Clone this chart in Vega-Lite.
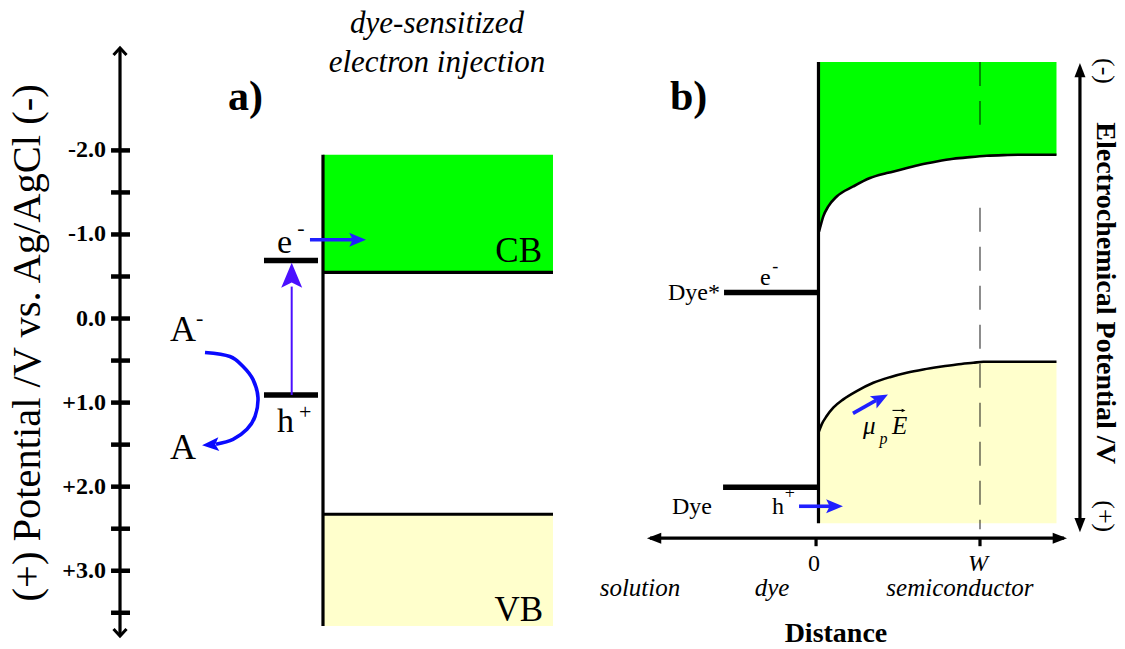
{
  "$schema": "https://vega.github.io/schema/vega-lite/v6.json",
  "width": 1125,
  "height": 649,
  "autosize": {"type": "fit", "contains": "padding"},
  "padding": 0,
  "background": "#ffffff",
  "config": {
    "view": {"stroke": null},
    "axis": {"disable": true},
    "text": {"font": "Liberation Serif", "color": "#000000"}
  },
  "datasets": {
    "edges": [
      {"band": "CB", "d": 0.0062, "E": -1.033},
      {"band": "CB", "d": 0.0123, "E": -1.077},
      {"band": "CB", "d": 0.0327, "E": -1.215},
      {"band": "CB", "d": 0.0636, "E": -1.334},
      {"band": "CB", "d": 0.1154, "E": -1.452},
      {"band": "CB", "d": 0.2179, "E": -1.571},
      {"band": "CB", "d": 0.321, "E": -1.671},
      {"band": "CB", "d": 0.4241, "E": -1.73},
      {"band": "CB", "d": 0.5265, "E": -1.778},
      {"band": "CB", "d": 0.6296, "E": -1.829},
      {"band": "CB", "d": 0.7327, "E": -1.868},
      {"band": "CB", "d": 0.8352, "E": -1.9},
      {"band": "CB", "d": 0.9383, "E": -1.92},
      {"band": "CB", "d": 1.0414, "E": -1.936},
      {"band": "CB", "d": 1.1438, "E": -1.944},
      {"band": "CB", "d": 1.2469, "E": -1.948},
      {"band": "CB", "d": 1.4722, "E": -1.948},
      {"band": "VB", "d": 0.003, "E": 1.357},
      {"band": "VB", "d": 0.0228, "E": 1.259},
      {"band": "VB", "d": 0.0537, "E": 1.16},
      {"band": "VB", "d": 0.0944, "E": 1.061},
      {"band": "VB", "d": 0.1562, "E": 0.962},
      {"band": "VB", "d": 0.2389, "E": 0.863},
      {"band": "VB", "d": 0.3414, "E": 0.764},
      {"band": "VB", "d": 0.4444, "E": 0.697},
      {"band": "VB", "d": 0.5475, "E": 0.645},
      {"band": "VB", "d": 0.65, "E": 0.606},
      {"band": "VB", "d": 0.7531, "E": 0.574},
      {"band": "VB", "d": 0.8562, "E": 0.546},
      {"band": "VB", "d": 0.9586, "E": 0.526},
      {"band": "VB", "d": 1.0204, "E": 0.514},
      {"band": "VB", "d": 1.4722, "E": 0.514}
    ]
  },
  "layer": [
    {
      "data": {"values": [
        {"band": "CB", "d": -3.0556, "d2": -1.6358, "E": -1.948, "E2": -0.55},
        {"band": "VB", "d": -3.0556, "d2": -1.6358, "E": 2.328, "E2": 3.658}
      ]},
      "mark": {"type": "rect"},
      "encoding": {
        "x": {"field": "d", "type": "quantitative", "axis": null,
              "scale": {"domain": [-5.0494, 1.8951], "nice": false, "zero": false}},
        "x2": {"field": "d2"},
        "y": {"field": "E", "type": "quantitative", "axis": null,
              "scale": {"domain": [-3.789, 3.919], "reverse": true, "nice": false, "zero": false}},
        "y2": {"field": "E2"},
        "color": {"field": "band", "type": "nominal", "legend": null,
                  "scale": {"domain": ["CB", "VB"], "range": ["#00ff00", "#ffffcc"]}}
      }
    },
    {
      "data": {"name": "edges"},
      "transform": [{"filter": "datum.band == 'CB'"}],
      "mark": {"type": "area", "interpolate": "monotone", "color": "#00ff00"},
      "encoding": {
        "x": {"field": "d", "type": "quantitative"},
        "y": {"field": "E", "type": "quantitative"},
        "y2": {"datum": -3.052}
      }
    },
    {
      "data": {"name": "edges"},
      "transform": [{"filter": "datum.band == 'VB'"}],
      "mark": {"type": "area", "interpolate": "monotone", "color": "#ffffcc"},
      "encoding": {
        "x": {"field": "d", "type": "quantitative"},
        "y": {"field": "E", "type": "quantitative"},
        "y2": {"datum": 2.435}
      }
    },
    {
      "data": {"values": [
        {"d": 1.0, "E": -3.052, "E2": -2.304},
        {"d": 1.0, "E": -1.318, "E2": 2.506}
      ]},
      "mark": {"type": "rule", "color": "#000000", "opacity": 0.6, "strokeWidth": 1.5, "strokeDash": [24, 15]},
      "encoding": {
        "x": {"field": "d", "type": "quantitative"},
        "y": {"field": "E", "type": "quantitative"},
        "y2": {"field": "E2"}
      }
    },
    {
      "data": {"name": "edges"},
      "mark": {"type": "line", "interpolate": "monotone", "color": "#000000", "strokeWidth": 2.6},
      "encoding": {
        "x": {"field": "d", "type": "quantitative"},
        "y": {"field": "E", "type": "quantitative"},
        "detail": {"field": "band"}
      }
    },
    {
      "data": {"values": [
        {"part": "interface a", "d": -3.0556, "E": -1.948, "d2": -3.0556, "E2": 3.658},
        {"part": "CB edge a", "d": -3.0556, "E": -0.55, "d2": -1.6358, "E2": -0.55},
        {"part": "VB edge a", "d": -3.0556, "E": 2.328, "d2": -1.6358, "E2": 2.328},
        {"part": "interface b", "d": 0.003, "E": -3.052, "d2": 0.003, "E2": 2.435},
        {"part": "potential axis", "d": -4.3086, "E": -3.21, "d2": -4.3086, "E2": 3.768},
        {"part": "distance axis", "d": -1.037, "E": 2.613, "d2": 1.519, "E2": 2.613},
        {"part": "electrochemical axis", "d": 1.617, "E": -2.96, "d2": 1.617, "E2": 2.46},
        {"part": "tick 0", "d": -0.012, "E": 2.613, "d2": -0.012, "E2": 2.708},
        {"part": "tick W", "d": 1.0, "E": 2.613, "d2": 1.0, "E2": 2.708}
      ]},
      "mark": {"type": "rule", "color": "#000000", "strokeWidth": 3.2},
      "encoding": {
        "x": {"field": "d", "type": "quantitative"},
        "y": {"field": "E", "type": "quantitative"},
        "x2": {"field": "d2"},
        "y2": {"field": "E2"}
      }
    },
    {
      "data": {"values": [
        {"E": -2.0}, {"E": -1.5}, {"E": -1.0}, {"E": -0.5}, {"E": 0.0}, {"E": 0.5},
        {"E": 1.0}, {"E": 1.5}, {"E": 2.0}, {"E": 2.5}, {"E": 3.0}, {"E": 3.5}
      ]},
      "mark": {"type": "rule", "color": "#000000", "strokeWidth": 4.5},
      "encoding": {
        "x": {"datum": -4.364},
        "x2": {"datum": -4.247},
        "y": {"field": "E", "type": "quantitative"}
      }
    },
    {
      "data": {"values": [
        {"level": "e- (dye, a)", "d": -3.4198, "d2": -3.0864, "E": -0.689},
        {"level": "h+ (dye, a)", "d": -3.4198, "d2": -3.0864, "E": 0.909},
        {"level": "Dye*", "d": -0.58, "d2": 0.003, "E": -0.309},
        {"level": "Dye", "d": -0.586, "d2": 0.003, "E": 2.007}
      ]},
      "mark": {"type": "rule", "color": "#000000", "strokeWidth": 5.5},
      "encoding": {
        "x": {"field": "d", "type": "quantitative"},
        "x2": {"field": "d2"},
        "y": {"field": "E", "type": "quantitative"}
      }
    },
    {
      "data": {"values": [{"d": -3.2488, "E": 0.909, "E2": -0.38}]},
      "mark": {"type": "rule", "color": "#4b10ff", "strokeWidth": 2},
      "encoding": {
        "x": {"field": "d", "type": "quantitative"},
        "y": {"field": "E", "type": "quantitative"},
        "y2": {"field": "E2"}
      }
    },
    {
      "data": {"values": [
        {"arrow": "injection", "d": -3.136, "E": -0.938, "d2": -2.87, "E2": -0.938},
        {"arrow": "hole", "d": -0.117, "E": 2.233, "d2": 0.08, "E2": 2.233},
        {"arrow": "drift", "d": 0.216, "E": 1.128, "d2": 0.358, "E2": 0.974}
      ]},
      "mark": {"type": "rule", "color": "#2020ff", "strokeWidth": 3.6},
      "encoding": {
        "x": {"field": "d", "type": "quantitative"},
        "y": {"field": "E", "type": "quantitative"},
        "x2": {"field": "d2"},
        "y2": {"field": "E2"}
      }
    },
    {
      "data": {"values": [{"d": 0.46, "E": 1.093, "d2": 0.53, "E2": 1.093}]},
      "mark": {"type": "rule", "color": "#000000", "strokeWidth": 1.1},
      "encoding": {
        "x": {"field": "d", "type": "quantitative"},
        "y": {"field": "E", "type": "quantitative"},
        "x2": {"field": "d2"},
        "y2": {"field": "E2"}
      }
    },
    {
      "data": {"values": [
        {"i": 1, "d": -3.784, "E": 0.404},
        {"i": 2, "d": -3.63, "E": 0.451},
        {"i": 3, "d": -3.549, "E": 0.57},
        {"i": 4, "d": -3.488, "E": 0.724},
        {"i": 5, "d": -3.457, "E": 0.938},
        {"i": 6, "d": -3.475, "E": 1.164},
        {"i": 7, "d": -3.525, "E": 1.318},
        {"i": 8, "d": -3.611, "E": 1.437},
        {"i": 9, "d": -3.716, "E": 1.496}
      ]},
      "mark": {"type": "line", "interpolate": "cardinal", "color": "#0a0aff", "strokeWidth": 3.6},
      "encoding": {
        "x": {"field": "d", "type": "quantitative"},
        "y": {"field": "E", "type": "quantitative"},
        "order": {"field": "i", "type": "quantitative"}
      }
    },
    {
      "data": {"values": [{"d": -3.2488, "E": -0.665}]},
      "mark": {"type": "point", "shape": "M0,0L1,2.4L0,1.9L-1,2.4Z", "size": 441, "filled": true, "opacity": 1, "color": "#4b10ff", "strokeWidth": 0},
      "encoding": {"x": {"field": "d", "type": "quantitative"}, "y": {"field": "E", "type": "quantitative"}}
    },
    {
      "data": {"values": [{"d": -2.79, "E": -0.938}, {"d": 0.154, "E": 2.233}]},
      "mark": {"type": "point", "shape": "M0,0L1,2.4L0,1.9L-1,2.4Z", "size": 196, "angle": 90, "filled": true, "opacity": 1, "color": "#2020ff", "strokeWidth": 0},
      "encoding": {"x": {"field": "d", "type": "quantitative"}, "y": {"field": "E", "type": "quantitative"}}
    },
    {
      "data": {"values": [{"d": 0.432, "E": 0.903}]},
      "mark": {"type": "point", "shape": "M0,0L1,2.4L0,1.9L-1,2.4Z", "size": 196, "angle": 61.5, "filled": true, "opacity": 1, "color": "#2020ff", "strokeWidth": 0},
      "encoding": {"x": {"field": "d", "type": "quantitative"}, "y": {"field": "E", "type": "quantitative"}}
    },
    {
      "data": {"values": [{"d": 0.54, "E": 1.093}]},
      "mark": {"type": "point", "shape": "M0,0L1,2.2L-1,2.2Z", "size": 12, "angle": 90, "filled": true, "opacity": 1, "color": "#000000", "strokeWidth": 0},
      "encoding": {"x": {"field": "d", "type": "quantitative"}, "y": {"field": "E", "type": "quantitative"}}
    },
    {
      "data": {"values": [{"d": -3.802, "E": 1.508}]},
      "mark": {"type": "point", "shape": "M0,0L1,2.4L0,1.9L-1,2.4Z", "size": 196, "angle": 266, "filled": true, "opacity": 1, "color": "#0a0aff", "strokeWidth": 0},
      "encoding": {"x": {"field": "d", "type": "quantitative"}, "y": {"field": "E", "type": "quantitative"}}
    },
    {
      "data": {"values": [{"d": 1.617, "E": -3.04}]},
      "mark": {"type": "point", "shape": "M0,0L1,2.6L-1,2.6Z", "size": 121, "angle": 0, "filled": true, "opacity": 1, "color": "#000000", "strokeWidth": 0},
      "encoding": {"x": {"field": "d", "type": "quantitative"}, "y": {"field": "E", "type": "quantitative"}}
    },
    {
      "data": {"values": [{"d": 1.617, "E": 2.542}]},
      "mark": {"type": "point", "shape": "M0,0L1,2.6L-1,2.6Z", "size": 121, "angle": 180, "filled": true, "opacity": 1, "color": "#000000", "strokeWidth": 0},
      "encoding": {"x": {"field": "d", "type": "quantitative"}, "y": {"field": "E", "type": "quantitative"}}
    },
    {
      "data": {"values": [{"d": -1.056, "E": 2.613}]},
      "mark": {"type": "point", "shape": "M0,0L1,2.6L-1,2.6Z", "size": 121, "angle": 270, "filled": true, "opacity": 1, "color": "#000000", "strokeWidth": 0},
      "encoding": {"x": {"field": "d", "type": "quantitative"}, "y": {"field": "E", "type": "quantitative"}}
    },
    {
      "data": {"values": [{"d": 1.537, "E": 2.613}]},
      "mark": {"type": "point", "shape": "M0,0L1,2.6L-1,2.6Z", "size": 121, "angle": 90, "filled": true, "opacity": 1, "color": "#000000", "strokeWidth": 0},
      "encoding": {"x": {"field": "d", "type": "quantitative"}, "y": {"field": "E", "type": "quantitative"}}
    },
    {
      "data": {"values": [{"d": -4.3086, "E": -3.219}]},
      "mark": {"type": "point", "shape": "M-1,1.1L0,0L1,1.1", "size": 169, "angle": 0, "filled": false, "opacity": 1, "color": "#000000", "strokeWidth": 3},
      "encoding": {"x": {"field": "d", "type": "quantitative"}, "y": {"field": "E", "type": "quantitative"}}
    },
    {
      "data": {"values": [{"d": -4.3086, "E": 3.777}]},
      "mark": {"type": "point", "shape": "M-1,1.1L0,0L1,1.1", "size": 169, "angle": 180, "filled": false, "opacity": 1, "color": "#000000", "strokeWidth": 3},
      "encoding": {"x": {"field": "d", "type": "quantitative"}, "y": {"field": "E", "type": "quantitative"}}
    },
    {
      "data": {"values": [
        {"E": -2.0, "t": "-2.0"}, {"E": -1.0, "t": "-1.0"}, {"E": 0.0, "t": "0.0"},
        {"E": 1.0, "t": "+1.0"}, {"E": 2.0, "t": "+2.0"}, {"E": 3.0, "t": "+3.0"}
      ]},
      "mark": {"type": "text", "font": "Liberation Serif", "fontSize": 24, "fontWeight": "bold", "align": "right", "baseline": "middle"},
      "encoding": {"x": {"datum": -4.395}, "y": {"field": "E", "type": "quantitative"}, "text": {"field": "t"}}
    },
    {
      "data": {"values": [{"d": -3.642, "E": -2.482, "t": "a)"}, {"d": -0.9136, "E": -2.482, "t": "b)"}]},
      "mark": {"type": "text", "font": "Liberation Serif", "fontSize": 42, "fontWeight": "bold", "align": "left", "baseline": "alphabetic"},
      "encoding": {"x": {"field": "d", "type": "quantitative"}, "y": {"field": "E", "type": "quantitative"}, "text": {"field": "t"}}
    },
    {
      "data": {"values": [{"d": -2.352, "E": -3.397, "t": "dye-sensitized"}, {"d": -2.352, "E": -2.933, "t": "electron injection"}]},
      "mark": {"type": "text", "font": "Liberation Serif", "fontSize": 31, "fontStyle": "italic", "align": "center", "baseline": "alphabetic"},
      "encoding": {"x": {"field": "d", "type": "quantitative"}, "y": {"field": "E", "type": "quantitative"}, "text": {"field": "t"}}
    },
    {
      "data": {"values": [{"d": -1.7037, "E": -0.677, "t": "CB"}, {"d": -1.6975, "E": 3.599, "t": "VB"}]},
      "mark": {"type": "text", "font": "Liberation Serif", "fontSize": 35, "align": "right", "baseline": "alphabetic"},
      "encoding": {"x": {"field": "d", "type": "quantitative"}, "y": {"field": "E", "type": "quantitative"}, "text": {"field": "t"}}
    },
    {
      "data": {"values": [{"d": -3.3395, "E": -0.784, "t": "e"}, {"d": -3.3395, "E": 1.354, "t": "h"}]},
      "mark": {"type": "text", "font": "Liberation Serif", "fontSize": 34, "align": "left", "baseline": "alphabetic"},
      "encoding": {"x": {"field": "d", "type": "quantitative"}, "y": {"field": "E", "type": "quantitative"}, "text": {"field": "t"}}
    },
    {
      "data": {"values": [{"d": -4.0, "E": 0.273, "t": "A"}, {"d": -4.0, "E": 1.675, "t": "A"}]},
      "mark": {"type": "text", "font": "Liberation Serif", "fontSize": 36, "align": "left", "baseline": "alphabetic"},
      "encoding": {"x": {"field": "d", "type": "quantitative"}, "y": {"field": "E", "type": "quantitative"}, "text": {"field": "t"}}
    },
    {
      "data": {"values": [
        {"d": -3.215, "E": -0.99, "t": "-"},
        {"d": -3.204, "E": 1.19, "t": "+"},
        {"d": -3.84, "E": 0.08, "t": "-"}
      ]},
      "mark": {"type": "text", "font": "Liberation Serif", "fontSize": 22, "align": "left", "baseline": "alphabetic"},
      "encoding": {"x": {"field": "d", "type": "quantitative"}, "y": {"field": "E", "type": "quantitative"}, "text": {"field": "t"}}
    },
    {
      "data": {"values": [
        {"d": -0.926, "E": -0.226, "t": "Dye*"},
        {"d": -0.358, "E": -0.404, "t": "e"},
        {"d": -0.901, "E": 2.328, "t": "Dye"},
        {"d": -0.284, "E": 2.328, "t": "h"}
      ]},
      "mark": {"type": "text", "font": "Liberation Serif", "fontSize": 24, "align": "left", "baseline": "alphabetic"},
      "encoding": {"x": {"field": "d", "type": "quantitative"}, "y": {"field": "E", "type": "quantitative"}, "text": {"field": "t"}}
    },
    {
      "data": {"values": [{"d": -0.283, "E": -0.55, "t": "-"}, {"d": -0.205, "E": 2.15, "t": "+"}]},
      "mark": {"type": "text", "font": "Liberation Serif", "fontSize": 18, "align": "left", "baseline": "alphabetic"},
      "encoding": {"x": {"field": "d", "type": "quantitative"}, "y": {"field": "E", "type": "quantitative"}, "text": {"field": "t"}}
    },
    {
      "data": {"values": [{"d": 0.278, "E": 1.378, "t": "μ"}, {"d": 0.457, "E": 1.378, "t": "E"}]},
      "mark": {"type": "text", "font": "Liberation Serif", "fontSize": 25, "fontStyle": "italic", "align": "left", "baseline": "alphabetic"},
      "encoding": {"x": {"field": "d", "type": "quantitative"}, "y": {"field": "E", "type": "quantitative"}, "text": {"field": "t"}}
    },
    {
      "data": {"values": [{"d": 0.38, "E": 1.496, "t": "p"}]},
      "mark": {"type": "text", "font": "Liberation Serif", "fontSize": 16, "fontStyle": "italic", "align": "left", "baseline": "alphabetic"},
      "encoding": {"x": {"field": "d", "type": "quantitative"}, "y": {"field": "E", "type": "quantitative"}, "text": {"field": "t"}}
    },
    {
      "data": {"values": [{"d": -0.025, "E": 3.005, "t": "0"}]},
      "mark": {"type": "text", "font": "Liberation Serif", "fontSize": 24, "align": "center", "baseline": "alphabetic"},
      "encoding": {"x": {"field": "d", "type": "quantitative"}, "y": {"field": "E", "type": "quantitative"}, "text": {"field": "t"}}
    },
    {
      "data": {"values": [{"d": 0.988, "E": 3.005, "t": "W"}]},
      "mark": {"type": "text", "font": "Liberation Serif", "fontSize": 24, "fontStyle": "italic", "align": "center", "baseline": "alphabetic"},
      "encoding": {"x": {"field": "d", "type": "quantitative"}, "y": {"field": "E", "type": "quantitative"}, "text": {"field": "t"}}
    },
    {
      "data": {"values": [
        {"d": -1.099, "E": 3.302, "t": "solution"},
        {"d": -0.284, "E": 3.302, "t": "dye"},
        {"d": 0.876, "E": 3.302, "t": "semiconductor"}
      ]},
      "mark": {"type": "text", "font": "Liberation Serif", "fontSize": 25, "fontStyle": "italic", "align": "center", "baseline": "alphabetic"},
      "encoding": {"x": {"field": "d", "type": "quantitative"}, "y": {"field": "E", "type": "quantitative"}, "text": {"field": "t"}}
    },
    {
      "data": {"values": [{"d": 0.111, "E": 3.848, "t": "Distance"}]},
      "mark": {"type": "text", "font": "Liberation Serif", "fontSize": 28, "fontWeight": "bold", "align": "center", "baseline": "alphabetic"},
      "encoding": {"x": {"field": "d", "type": "quantitative"}, "y": {"field": "E", "type": "quantitative"}, "text": {"field": "t"}}
    },
    {
      "data": {"values": [{"d": -4.8025, "E": 0.29, "t": "(+) Potential /V vs. Ag/AgCl  (-)"}]},
      "mark": {"type": "text", "font": "Liberation Serif", "fontSize": 40.5, "angle": -90, "align": "center", "baseline": "alphabetic"},
      "encoding": {"x": {"field": "d", "type": "quantitative"}, "y": {"field": "E", "type": "quantitative"}, "text": {"field": "t"}}
    },
    {
      "data": {"values": [{"d": 1.722, "E": -0.303, "t": "Electrochemical Potential /V"}]},
      "mark": {"type": "text", "font": "Liberation Serif", "fontSize": 28, "fontWeight": "bold", "angle": 90, "align": "center", "baseline": "alphabetic"},
      "encoding": {"x": {"field": "d", "type": "quantitative"}, "y": {"field": "E", "type": "quantitative"}, "text": {"field": "t"}}
    },
    {
      "data": {"values": [{"d": 1.722, "E": -2.945, "t": "(-)"}, {"d": 1.722, "E": 2.352, "t": "(+)"}]},
      "mark": {"type": "text", "font": "Liberation Serif", "fontSize": 26, "angle": 90, "align": "center", "baseline": "alphabetic"},
      "encoding": {"x": {"field": "d", "type": "quantitative"}, "y": {"field": "E", "type": "quantitative"}, "text": {"field": "t"}}
    }
  ]
}
